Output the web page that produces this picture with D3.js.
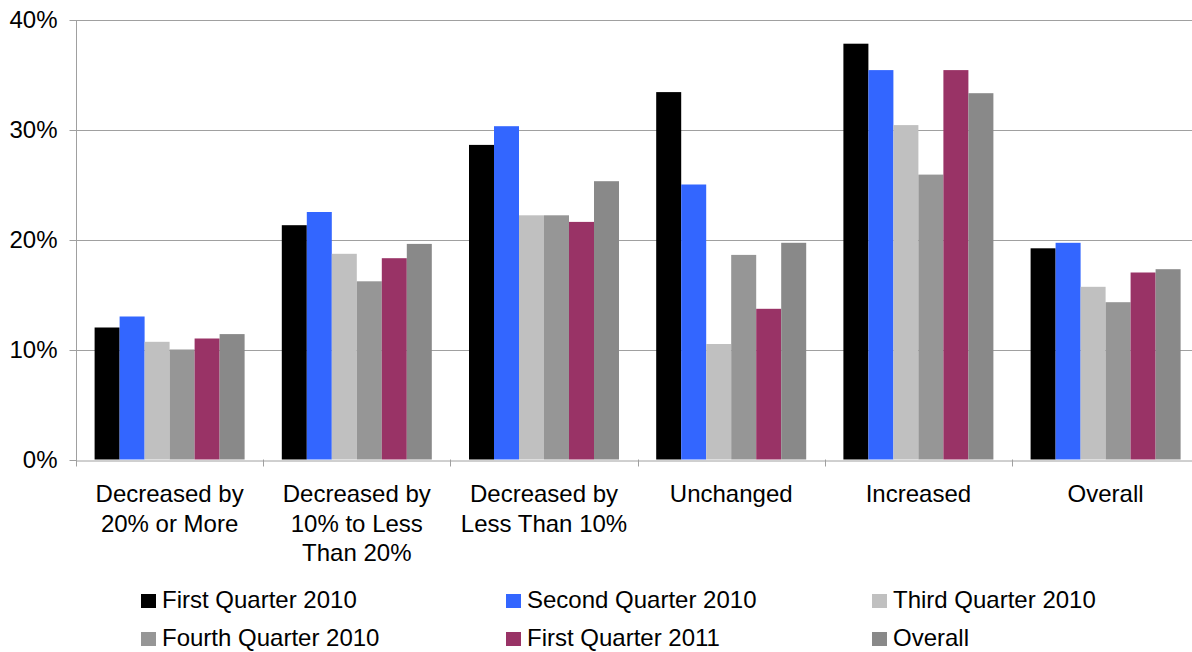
<!DOCTYPE html>
<html>
<head>
<meta charset="utf-8">
<script src="https://cdn.jsdelivr.net/npm/d3@7"></script>
<style>
  html, body { margin: 0; padding: 0; background: #fff; }
  svg { display: block; font-family: "Liberation Sans", Arial, sans-serif; }
</style>
</head>
<body>
<svg id="chart" width="1192" height="652"></svg>
<script>
const categories = [
  ["Decreased by", "20% or More"],
  ["Decreased by", "10% to Less", "Than 20%"],
  ["Decreased by", "Less Than 10%"],
  ["Unchanged"],
  ["Increased"],
  ["Overall"]
];
const seriesNames = ["First Quarter 2010", "Second Quarter 2010", "Third Quarter 2010",
                     "Fourth Quarter 2010", "First Quarter 2011", "Overall"];
const seriesColors = ["#000000", "#3366FF", "#C0C0C0", "#969696", "#993366", "#898989"];
const firstQuarter2010  = [12.0, 21.3, 28.6, 33.4, 37.8, 19.2];
const secondQuarter2010 = [13.0, 22.5, 30.3, 25.0, 35.4, 19.7];
const thirdQuarter2010  = [10.7, 18.7, 22.2, 10.5, 30.4, 15.7];
const fourthQuarter2010 = [10.0, 16.2, 22.2, 18.6, 25.9, 14.3];
const firstQuarter2011  = [11.0, 18.3, 21.6, 13.7, 35.4, 17.0];
const overallSeries     = [11.4, 19.6, 25.3, 19.7, 33.3, 17.3];
const yTicks = [0, 10, 20, 30, 40];

const seriesValues = [firstQuarter2010, secondQuarter2010, thirdQuarter2010,
                      fourthQuarter2010, firstQuarter2011, overallSeries];

(function () {
const svg = d3.select("#chart");
const pLeft = 76, pRight = 1199.2, pTop = 19.5, pBottom = 459.5;
const catKeys = categories.map((c, i) => i);
const fontSize = 24;

const x0 = d3.scaleBand().domain(catKeys).range([pLeft, pRight]).paddingInner(0).paddingOuter(0);
const bw = x0.bandwidth();
const x1 = d3.scaleBand().domain(d3.range(seriesNames.length))
  .range([(bw - 150) / 2, (bw + 150) / 2]).padding(0);
const y = d3.scaleLinear().domain([0, 40]).range([pBottom, pTop]);

const gridColor = "#A0A0A0";

// gridlines
svg.append("g").selectAll("line").data(yTicks.filter(d => d > 0)).join("line")
  .attr("x1", pLeft).attr("x2", pRight)
  .attr("y1", d => Math.round(y(d)) + 0.5).attr("y2", d => Math.round(y(d)) + 0.5)
  .attr("stroke", gridColor).attr("stroke-width", 1);

// bars
const gCat = svg.append("g").selectAll("g").data(catKeys).join("g")
  .attr("transform", d => `translate(${x0(d)},0)`);
gCat.selectAll("rect")
  .data(ci => seriesValues.map((vals, si) => ({ si, v: vals[ci] })))
  .join("rect")
  .attr("x", d => x1(d.si))
  .attr("width", x1.bandwidth())
  .attr("y", d => y(d.v))
  .attr("height", d => y(0) - y(d.v))
  .attr("fill", d => seriesColors[d.si]);

// y axis
const yAxis = d3.axisLeft(y).tickValues(yTicks).tickFormat(d => d + "%").tickSize(7).tickPadding(12);
const gy = svg.append("g").attr("transform", `translate(${pLeft + 0.5},0.5)`).call(yAxis);
gy.select(".domain").attr("stroke", gridColor).attr("d", `M0,${pTop}V${pBottom}`);
gy.selectAll(".tick line").attr("stroke", gridColor);
gy.selectAll(".tick text").attr("font-size", fontSize).attr("fill", "#000")
  .attr("font-family", "Liberation Sans, Arial, sans-serif");

// x axis
const xAxis = d3.axisBottom(x0).tickSize(0).tickFormat("");
const gx = svg.append("g").attr("transform", `translate(0,${Math.round(pBottom) + 0.5})`).call(xAxis);
gx.select(".domain").attr("stroke", gridColor);
gx.selectAll(".tick").remove();
// category boundary ticks
const boundaries = catKeys.map(k => x0(k)).concat([pRight]);
svg.append("g").selectAll("line").data(boundaries).join("line")
  .attr("x1", d => Math.round(d) + 0.5).attr("x2", d => Math.round(d) + 0.5)
  .attr("y1", pBottom).attr("y2", pBottom + 7)
  .attr("stroke", gridColor);

// category labels
const labG = svg.append("g").selectAll("text").data(catKeys).join("text")
  .attr("x", d => x0(d) + bw / 2)
  .attr("y", 502)
  .attr("text-anchor", "middle")
  .attr("font-size", fontSize)
  .attr("fill", "#000");
labG.selectAll("tspan").data(d => categories[d]).join("tspan")
  .attr("x", function () { return d3.select(this.parentNode).attr("x"); })
  .attr("dy", (d, i) => i === 0 ? 0 : 29.5)
  .text(d => d);

// legend
const legX = [141, 506, 872];
const legY = [601, 639];
const leg = svg.append("g").selectAll("g").data(seriesNames).join("g")
  .attr("transform", (d, i) => `translate(${legX[i % 3]},${legY[Math.floor(i / 3)]})`);
leg.append("rect").attr("x", 0).attr("y", -7).attr("width", 15).attr("height", 14)
  .attr("fill", (d, i) => seriesColors[i]);
leg.append("text").attr("x", 21).attr("y", 7).attr("font-size", fontSize).attr("fill", "#000")
  .text(d => d);
})();
</script>
</body>
</html>
